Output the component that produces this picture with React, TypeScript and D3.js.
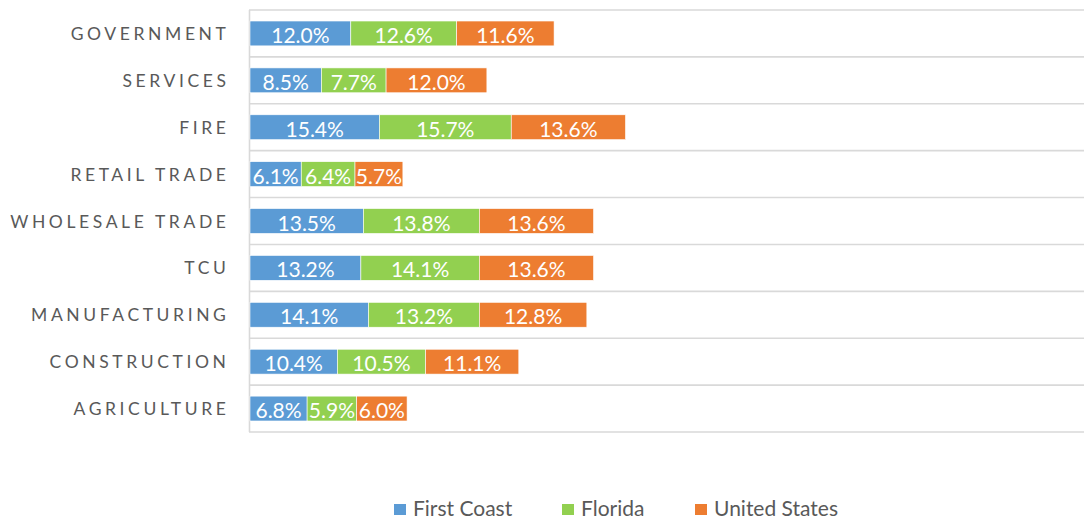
import React from "react";
import * as d3 from "d3";

const categories = ["GOVERNMENT", "SERVICES", "FIRE", "RETAIL TRADE", "WHOLESALE TRADE", "TCU", "MANUFACTURING", "CONSTRUCTION", "AGRICULTURE"];
const seriesNames = ["First Coast", "Florida", "United States"];
const firstCoast = [12.0, 8.5, 15.4, 6.1, 13.5, 13.2, 14.1, 10.4, 6.8];
const florida = [12.6, 7.7, 15.7, 6.4, 13.8, 14.1, 13.2, 10.5, 5.9];
const unitedStates = [11.6, 12.0, 13.6, 5.7, 13.6, 13.6, 12.8, 11.1, 6.0];
const colors = ["#5B9BD5", "#92D050", "#ED7D31"];

const W = 1084;
const H = 519;

export default function App() {
  const series = [firstCoast, florida, unitedStates];
  const rows = categories.map((c, i) => ({ cat: c, vals: series.map((s) => s[i]) }));
  const y = d3.scaleBand<string>().domain(categories).range([10, 432]).paddingInner(0.47).paddingOuter(0.235);
  const yStep = d3.scaleBand<string>().domain(categories).range([10, 432]).padding(0);
  const x = d3.scaleLinear().domain([0, 100]).range([250, 1090]);
  const gridYs = categories.map((c) => yStep(c)!).concat([432]);

  const legendItems = [
    { name: seriesNames[0], sx: 394, tx: 413 },
    { name: seriesNames[1], sx: 562, tx: 581 },
    { name: seriesNames[2], sx: 695, tx: 714 },
  ];

  return (
    <svg width={W} height={H} style={{ position: "absolute", left: 0, top: 0, background: "#fff" }} fontFamily="Lato, 'Open Sans', sans-serif">
      {gridYs.map((gy, i) => (
        <line key={i} x1={249} x2={W} y1={gy} y2={gy} stroke="#D9D9D9" strokeWidth={1.6} />
      ))}
      <line x1={249.5} x2={249.5} y1={10} y2={432} stroke="#D9D9D9" strokeWidth={1.6} />
      {rows.map((r) => {
        let acc = 0;
        const by = y(r.cat)!;
        const bh = y.bandwidth();
        return (
          <g key={r.cat}>
            <text x={229.5} y={by + bh / 2} textAnchor="end" dominantBaseline="central" fill="#595959" fontSize={17.5} letterSpacing={3.6}>
              {r.cat}
            </text>
            {r.vals.map((v, j) => {
              const x0 = x(acc);
              acc += v;
              const x1 = x(acc);
              return (
                <g key={j}>
                  <rect x={x0} y={by} width={x1 - x0} height={bh} fill={colors[j]} stroke="#fff" strokeWidth={0.6} />
                  <text x={(x0 + x1) / 2} y={by + bh / 2 + 1} textAnchor="middle" dominantBaseline="central" fill="#fff" fontSize={21}>
                    {v.toFixed(1) + "%"}
                  </text>
                </g>
              );
            })}
          </g>
        );
      })}
      {legendItems.map((l, i) => (
        <g key={l.name}>
          <rect x={l.sx} y={504} width={12} height={11} fill={colors[i]} />
          <text x={l.tx} y={516} fill="#595959" fontSize={21}>
            {l.name}
          </text>
        </g>
      ))}
    </svg>
  );
}
